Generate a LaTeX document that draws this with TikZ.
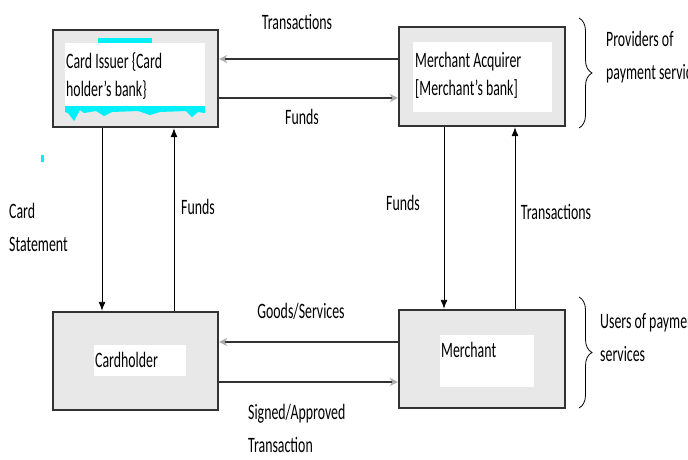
\documentclass[tikz,border=0pt]{standalone}
\usepackage{fontspec}
\setmainfont{Carlito}[FakeStretch=0.63]
\usepackage{tikz}
\usetikzlibrary{positioning, arrows.meta, decorations.pathreplacing}
\definecolor{boxgray}{RGB}{232,232,232}
\definecolor{edgegray}{RGB}{50,50,50}
\definecolor{tipgray}{RGB}{170,170,170}
\definecolor{markcyan}{RGB}{0,240,250}
\tikzset{
  party/.style={draw=edgegray, line width=2.4pt, fill=boxgray, inner sep=0pt},
  inbox/.style={fill=white, inner sep=0pt},
  lbl/.style={inner sep=0pt, font=\fontsize{22}{33}\selectfont},
  flow/.style={draw=edgegray, line width=2pt, -{Stealth[length=8pt, width=8pt, color=tipgray]}},
  vflow/.style={draw=black, line width=0.9pt, -{Latex[length=9pt, width=7pt]}},
  grp/.style={draw=black, line width=0.8pt, decorate, decoration={brace, amplitude=13pt}}}

\begin{document}
\begin{tikzpicture}[x=1pt, y=-1pt]
  \useasboundingbox (0,0) rectangle (688,459);
  % the four parties
  \node[party, minimum width=165pt, minimum height=97pt] (issuer) at (135.5,78.5) {};
  \node[party, minimum width=166pt, minimum height=99pt] (acquirer) at (482,76.5) {};
  \node[party, minimum width=165pt, minimum height=98pt] (holder) at (135.5,361) {};
  \node[party, minimum width=166pt, minimum height=98pt] (merchant) at (482,359) {};
  \node[inbox, minimum width=140pt, minimum height=65pt] (issuerin) at (135,75.5) {};
  \node[inbox, minimum width=139pt, minimum height=70pt] (acquirerin) at (482.5,77) {};
  \node[inbox, minimum width=92pt, minimum height=31pt] (holderin) at (140,360.5) {};
  \node[inbox, minimum width=94pt, minimum height=52pt] (merchantin) at (487,361) {};
  % cyan marks on the issuer box
  \fill[markcyan] (98,38) rectangle (152,43);
  \fill[markcyan] (65,106) -- (205,106) -- (205,113) -- (198,112) -- (192,117) -- (186,111)
    -- (160,112) -- (150,115) -- (138,111) -- (112,112) -- (104,116) -- (96,111)
    -- (84,113) -- (80,110) -- (74,121) -- (68,113) -- (65,112) -- cycle;
  \fill[markcyan] (41,155) rectangle (44,162);
  % box texts
  \node[lbl, anchor=north west, align=left, font=\fontsize{22}{28}\selectfont] (issuertxt) at (66,52) {Card Issuer \{Card\\holder's bank\}};
  \node[lbl, anchor=north west, align=left, font=\fontsize{22}{28}\selectfont] (acquirertxt) at (415,52) {Merchant Acquirer\\{}[Merchant's bank]};
  \node[lbl, anchor=west] (holdertxt) at (95,360) {Cardholder};
  \node[lbl, anchor=west] (merchanttxt) at (441,350) {Merchant};
  % rows and columns of the connectors
  \coordinate (rowA) at (0,59);
  \coordinate (rowB) at (0,98);
  \coordinate (rowC) at (0,342);
  \coordinate (rowD) at (0,382);
  \coordinate (colA) at (102,0);
  \coordinate (colB) at (174,0);
  \coordinate (colC) at (444,0);
  \coordinate (colD) at (515,0);
  \draw[flow] (acquirer.west |- rowA) -- (issuer.east |- rowA);
  \draw[flow] (issuer.east |- rowB) -- (acquirer.west |- rowB);
  \draw[flow] (merchant.west |- rowC) -- (holder.east |- rowC);
  \draw[flow] (holder.east |- rowD) -- (merchant.west |- rowD);
  \draw[vflow] (issuer.south -| colA) -- (holder.north -| colA);
  \draw[vflow] (holder.north -| colB) -- (issuer.south -| colB);
  \draw[vflow] (acquirer.south -| colC) -- (merchant.north -| colC);
  \draw[vflow] (merchant.north -| colD) -- (acquirer.south -| colD);
  % connector labels
  \node[lbl] (trtop) at (297,22) {Transactions};
  \node[lbl] (fdtop) at (302,117) {Funds};
  \node[lbl, anchor=north west, align=left] (stmt) at (9,203) {Card\\Statement};
  \node[lbl] (fdleft) at (198,207) {Funds};
  \node[lbl] (fdright) at (403,203) {Funds};
  \node[lbl] (trright) at (556,212) {Transactions};
  \node[lbl] (goods) at (301,311) {Goods/Services};
  \node[lbl, anchor=north west, align=left] (signed) at (248,404) {Signed/Approved\\Transaction};
  % groups
  \coordinate (gA1) at (579,18);
  \coordinate (gA2) at (579,128);
  \coordinate (gB1) at (579,297);
  \coordinate (gB2) at (579,408);
  \draw[grp] (gA1) -- (gA2);
  \draw[grp] (gB1) -- (gB2);
  \node[lbl, anchor=north west, align=left] (prov) at (606,31) {Providers of\\payment services};
  \node[lbl, anchor=north west, align=left] (users) at (600,313) {Users of payment\\services};
\end{tikzpicture}
\end{document}
